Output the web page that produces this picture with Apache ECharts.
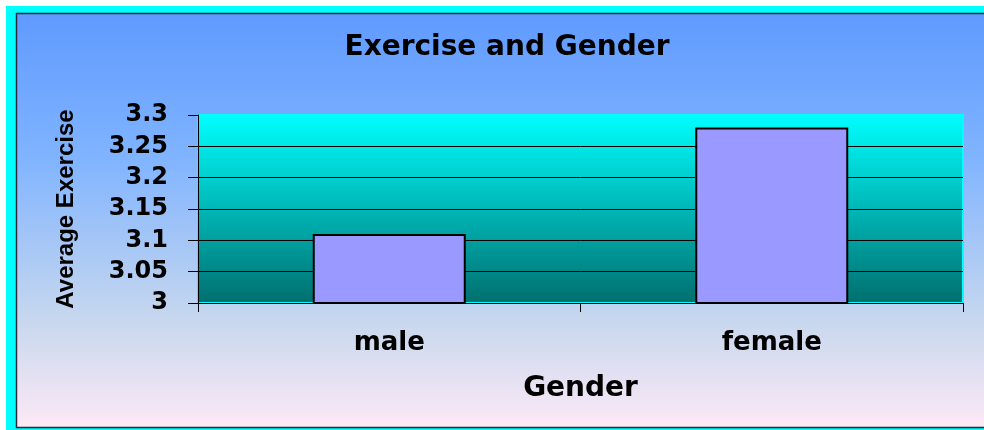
<!DOCTYPE html>
<html>
<head>
<meta charset="utf-8">
<script src="https://cdn.jsdelivr.net/npm/echarts@6/dist/echarts.min.js"></script>
<style>
  html, body { margin: 0; padding: 0; background: #fff; overflow: hidden; }
  #chart { width: 984px; height: 430px; }
</style>
</head>
<body>
<div id="chart"></div>
<script>
  // data
  const categories = ['male', 'female']
  const avgExercise = [3.11, 3.28]
  const yTicks = [3, 3.05, 3.1, 3.15, 3.2, 3.25, 3.3]

  const chart = echarts.init(document.getElementById('chart'))

  const labelFont = 'DejaVu Sans'

  chart.setOption({
    backgroundColor: '#ffffff',
    animation: false,
    graphic: [
      {
        type: 'rect', z: -10, silent: true,
        shape: { x: 6, y: 6, width: 990, height: 430 },
        style: { fill: '#00ffff' }
      },
      {
        type: 'rect', z: -9, silent: true,
        shape: { x: 16.5, y: 13.5, width: 980, height: 414 },
        style: {
          fill: new echarts.graphic.LinearGradient(0, 0, 0, 1, [
            { offset: 0, color: '#5f9aff' },
            { offset: 0.35, color: '#80b4ff' },
            { offset: 0.75, color: '#c9d8ee' },
            { offset: 1, color: '#fde9f6' }
          ]),
          stroke: '#2a2a3a',
          lineWidth: 1.5
        }
      }
    ],
    title: {
      text: 'Exercise and Gender',
      left: 502,
      top: 29,
      textAlign: 'center',
      textStyle: { fontFamily: labelFont, fontWeight: 'bold', fontSize: 28, color: '#000' }
    },
    grid: {
      left: 198,
      right: 21,
      top: 115,
      bottom: 127,
      show: true,
      borderColor: '#00ffff',
      borderWidth: 2,
      backgroundColor: new echarts.graphic.LinearGradient(0, 0, 0, 1, [
        { offset: 0, color: '#00ffff' },
        { offset: 1, color: '#006e6e' }
      ])
    },
    xAxis: {
      type: 'category',
      data: categories,
      name: 'Gender',
      nameLocation: 'middle',
      nameGap: 72,
      nameTextStyle: { fontFamily: labelFont, fontWeight: 'bold', fontSize: 28, color: '#000' },
      axisLine: { show: true, lineStyle: { color: '#000', width: 1 } },
      axisTick: { show: true, length: 9, lineStyle: { color: '#000' } },
      axisLabel: { margin: 27, fontFamily: labelFont, fontWeight: 'bold', fontSize: 26, color: '#000' },
      splitLine: { show: false }
    },
    yAxis: {
      type: 'value',
      min: yTicks[0],
      max: yTicks[yTicks.length - 1],
      interval: 0.05,
      name: 'Average Exercise',
      nameLocation: 'middle',
      nameRotate: 90,
      nameGap: 120,
      nameTextStyle: { fontFamily: 'Liberation Sans', fontWeight: 'bold', fontSize: 24, color: '#000' },
      axisLine: { show: true, lineStyle: { color: '#000', width: 1 } },
      axisTick: { show: true, length: 10, lineStyle: { color: '#000' } },
      axisLabel: {
        margin: 30,
        fontFamily: labelFont, fontWeight: 'bold', fontSize: 24, color: '#000',
        formatter: v => String(Math.round(v * 100) / 100)
      },
      splitLine: { show: true, showMaxLine: false, lineStyle: { color: '#000', width: 1 } }
    },
    series: [
      {
        type: 'bar',
        data: avgExercise,
        barWidth: '40%',
        itemStyle: { color: '#9999ff', borderColor: '#000', borderWidth: 2 }
      }
    ]
  })
</script>
</body>
</html>
